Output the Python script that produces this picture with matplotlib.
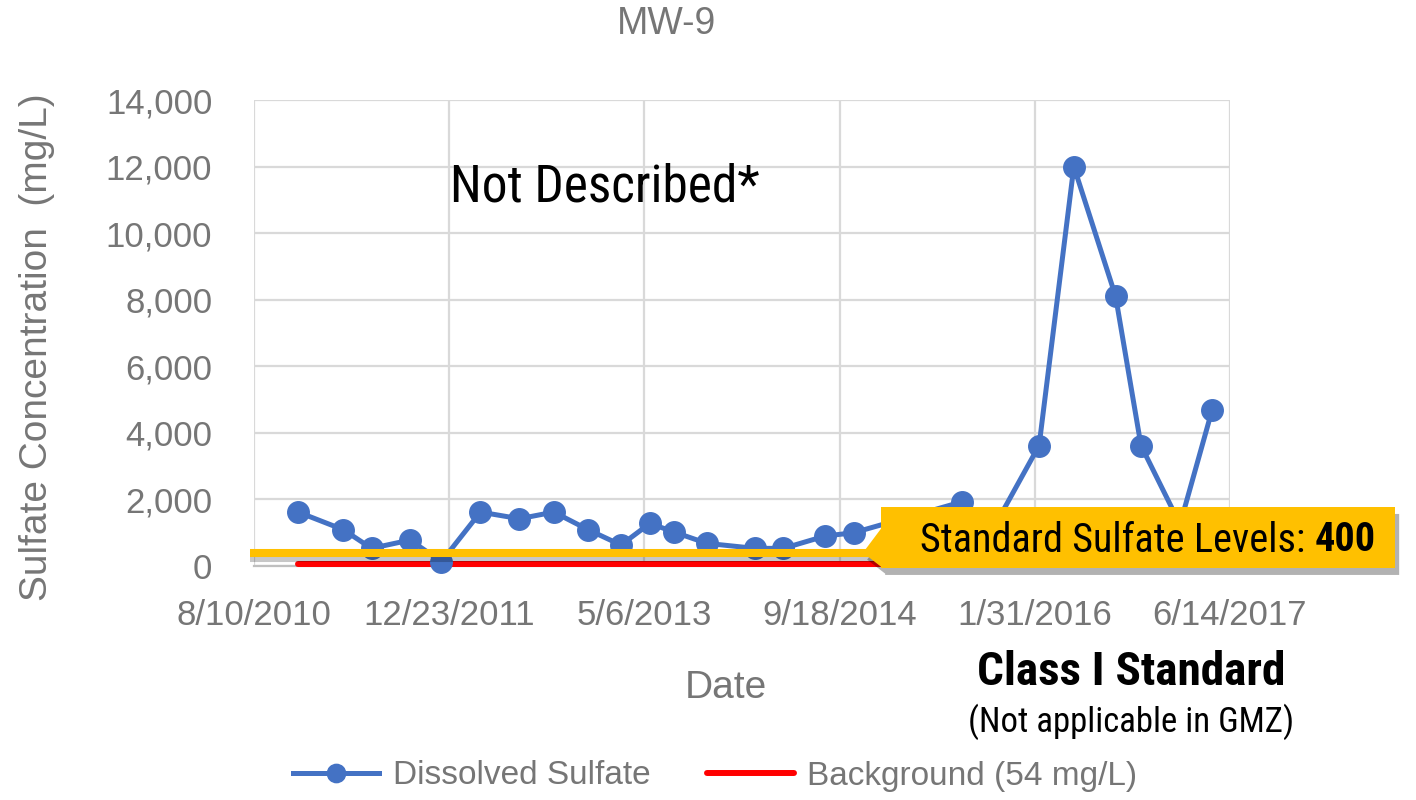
import numpy as np
import pandas as pd
import matplotlib
matplotlib.use("Agg")
import matplotlib.pyplot as plt
import matplotlib.dates as mdates
from matplotlib import font_manager
from matplotlib import patheffects as pe
from matplotlib.patches import Polygon
from matplotlib.transforms import blended_transform_factory

# sampling record for MW-9
sample_dates = ["2010-12-01", "2011-03-27", "2011-06-07", "2011-09-14", "2011-12-03",
                "2012-03-12", "2012-06-20", "2012-09-16", "2012-12-13", "2013-03-07",
                "2013-05-20", "2013-07-21", "2013-10-13", "2014-02-13", "2014-04-27",
                "2014-08-12", "2014-10-24", "2015-07-29", "2015-10-03", "2016-02-11",
                "2016-05-10", "2016-08-25", "2016-10-29", "2017-02-06", "2017-04-29"]
sulfate = [1620, 1090, 530, 780, 130,
           1620, 1420, 1620, 1090, 630,
           1280, 1020, 680, 530, 530,
           900, 1000, 1930, 840, 3620,
           12000, 8100, 3620, 1250, 4680]
background_level = 54
standard_level = 400
tick_dates = ["8/10/2010", "12/23/2011", "5/6/2013", "9/18/2014", "1/31/2016", "6/14/2017"]
y_ticks = [0, 2000, 4000, 6000, 8000, 10000, 12000, 14000]

W, H = 1416, 800
GRAY = "#767676"
BLUE = "#4472C4"
GOLD = "#FFC000"


def pick_font(*names):
    for n in names:
        try:
            font_manager.findfont(font_manager.FontProperties(family=n), fallback_to_default=False)
            return n
        except ValueError:
            pass
    return "DejaVu Sans"


SANS = pick_font("Liberation Sans", "Arial")
NARROW = pick_font("Liberation Sans Narrow", "Roboto Condensed", "Roboto")
plt.rcParams["font.family"] = SANS


def fx(px):
    return px / W


def fy(py):
    return 1 - py / H


dates = pd.to_datetime(sample_dates)
ticks = pd.to_datetime(tick_dates, format="%m/%d/%Y")

fig = plt.figure(figsize=(W / 100, H / 100), dpi=100)
ax = fig.add_axes([fx(254), fy(566), fx(1230) - fx(254), fy(100) - fy(566)])

ax.set_xlim(mdates.date2num(ticks[0]), mdates.date2num(ticks[-1]))
ax.set_ylim(0, 14000)
ax.set_xticks(mdates.date2num(ticks))
ax.set_xticklabels(tick_dates)
ax.set_yticks(y_ticks)
ax.set_yticklabels([f"{v:,}" for v in y_ticks])
ax.tick_params(length=0, labelsize=25, labelcolor=GRAY)
ax.tick_params(axis="x", pad=24)
ax.tick_params(axis="y", pad=30)
ax.grid(True, color="#d9d9d9", linewidth=1.6)
ax.set_axisbelow(True)
for s in ["top", "right", "left"]:
    ax.spines[s].set_visible(False)
ax.spines["bottom"].set_color("#bfbfbf")
ax.spines["bottom"].set_linewidth(1.6)

# measured sulfate
h_sulf, = ax.plot(dates, sulfate, color=BLUE, lw=3.6, marker="o", ms=15.5,
                  label="Dissolved Sulfate", zorder=4, clip_on=False)
# background level
h_bg, = ax.plot([dates[0], dates[-1]], [background_level] * 2, color="#FF0000", lw=4.3,
                solid_capstyle="round", label="Background (54 mg/L)", zorder=3, clip_on=False)

# standard level line and callout, x in figure coords, y in data
bt = blended_transform_factory(fig.transFigure, ax.transData)
ax.plot([fx(250), fx(880)], [standard_level] * 2, transform=bt, color=GOLD, lw=5.8,
        solid_capstyle="butt", zorder=5, clip_on=False,
        path_effects=[pe.SimpleLineShadow(offset=(0, -4), shadow_color="k", alpha=0.22),
                      pe.Normal()])

tip_py = H - ax.transData.transform((0, standard_level))[1]
box = [(881, 507), (1395, 507), (1395, 568), (881, 568), (881, tip_py + 14),
       (863, tip_py), (881, tip_py - 24)]
callout = Polygon([(fx(x), fy(y)) for x, y in box], closed=True, transform=fig.transFigure,
                  facecolor=GOLD, edgecolor="none", zorder=6,
                  path_effects=[pe.SimplePatchShadow(offset=(3, -5), shadow_rgbFace="k", alpha=0.3),
                                pe.Normal()])
fig.add_artist(callout)
t1 = fig.text(fx(920), fy(540), "Standard Sulfate Levels: ", family=NARROW, fontsize=29,
              va="center", ha="left", color="black", zorder=7)

# titles and notes
fig.text(fx(666), fy(24), "MW-9", ha="center", va="center", fontsize=27, color=GRAY)
fig.text(fx(37), fy(347), "Sulfate Concentration  (mg/L)", rotation=90, ha="center",
         va="center", fontsize=28, color=GRAY)
fig.text(fx(726), fy(688), "Date", ha="center", va="center", fontsize=28, color=GRAY)
fig.text(fx(605), fy(188), "Not Described*", ha="center", va="center", family=NARROW,
         fontsize=37, color="black")
fig.text(fx(1131), fy(672), "Class I Standard", ha="center", va="center", family=NARROW,
         fontsize=34, fontweight="bold", color="black")
fig.text(fx(1131), fy(722), "(Not applicable in GMZ)", ha="center", va="center",
         family=NARROW, fontsize=25, color="black")

fig.legend(handles=[h_sulf, h_bg], loc="center", bbox_to_anchor=(fx(715), fy(776)), ncol=2,
           frameon=False, fontsize=24, labelcolor=GRAY, handlelength=2.6, columnspacing=1.7,
           handletextpad=0.4, markerscale=0.85)

# bold value right after the callout label
fig.canvas.draw()
ext = t1.get_window_extent(renderer=fig.canvas.get_renderer())
fig.text(ext.x1 / W, fy(540), f"{standard_level}", family=NARROW, fontsize=29,
         fontweight="bold", va="center", ha="left", color="black", zorder=7)

fig.savefig("out.png", dpi=100)
